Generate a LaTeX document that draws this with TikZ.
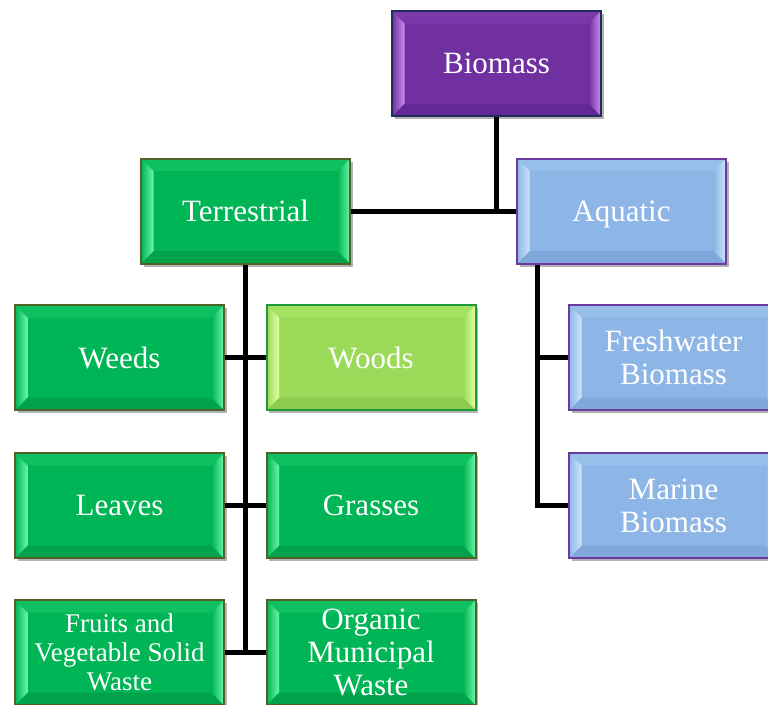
\documentclass[tikz,border=0pt]{standalone}
\usepackage{fontspec}
\setmainfont{Liberation Serif}
\newfontfamily\boxface{Liberation Serif}
\usetikzlibrary{shadows,backgrounds}

% colour sets: fill, light bevel, top bevel, bottom bevel, border
\definecolor{pFill}{HTML}{7030A0}
\definecolor{pLight}{HTML}{C88CEE}
\definecolor{pTop}{HTML}{7A38AA}
\definecolor{pBot}{HTML}{642894}
\definecolor{pLine}{HTML}{1F2D5A}

\definecolor{gFill}{HTML}{00B555}
\definecolor{gLight}{HTML}{6AF5A8}
\definecolor{gTop}{HTML}{0EC060}
\definecolor{gBot}{HTML}{00A24C}
\definecolor{gLine}{HTML}{4F6228}

\definecolor{lFill}{HTML}{9ADA58}
\definecolor{lLight}{HTML}{E2FFA8}
\definecolor{lTop}{HTML}{A4E262}
\definecolor{lBot}{HTML}{8CCB4C}
\definecolor{lLine}{HTML}{1E9A3C}

\definecolor{bFill}{HTML}{8DB6E6}
\definecolor{bLight}{HTML}{CFE3F8}
\definecolor{bTop}{HTML}{98BFEA}
\definecolor{bBot}{HTML}{80A8DA}
\definecolor{bLine}{HTML}{6A3A9C}

\newlength\bevw
\setlength\bevw{12.5pt}

\tikzset{
  x=1pt, y=-1pt,
  bevel/.style n args={5}{
    draw=#5, fill=#1, line width=2pt,
    minimum width=209pt, minimum height=105pt, inner sep=0pt,
    align=center, text=white,
    font=\boxface\fontsize{31}{33}\selectfont,
    drop shadow={shadow xshift=2.5pt, shadow yshift=-3pt, opacity=0.3, fill=black},
    path picture={
      % top face
      \fill[#3] (path picture bounding box.north west)
        -- (path picture bounding box.north east)
        -- ([xshift=-\bevw,yshift=-\bevw]path picture bounding box.north east)
        -- ([xshift=\bevw,yshift=-\bevw]path picture bounding box.north west) -- cycle;
      % bottom face
      \fill[#4] (path picture bounding box.south west)
        -- (path picture bounding box.south east)
        -- ([xshift=-\bevw,yshift=\bevw]path picture bounding box.south east)
        -- ([xshift=\bevw,yshift=\bevw]path picture bounding box.south west) -- cycle;
      % left face, brightest along its inner edge
      \fill[left color=#1, right color=#2] (path picture bounding box.north west)
        -- ([xshift=\bevw,yshift=-\bevw]path picture bounding box.north west)
        -- ([xshift=\bevw,yshift=\bevw]path picture bounding box.south west)
        -- (path picture bounding box.south west) -- cycle;
      % right face, brightest along the outer edge
      \fill[left color=#1, right color=#2] (path picture bounding box.north east)
        -- ([xshift=-\bevw,yshift=-\bevw]path picture bounding box.north east)
        -- ([xshift=-\bevw,yshift=\bevw]path picture bounding box.south east)
        -- (path picture bounding box.south east) -- cycle;
    }
  },
  purplebox/.style={bevel={pFill}{pLight}{pTop}{pBot}{pLine}},
  greenbox/.style={bevel={gFill}{gLight}{gTop}{gBot}{gLine}},
  limebox/.style={bevel={lFill}{lLight}{lTop}{lBot}{lLine}},
  bluebox/.style={bevel={bFill}{bLight}{bTop}{bBot}{bLine}},
  link/.style={draw=black, line width=5pt},
}

\begin{document}
\begin{tikzpicture}
\useasboundingbox (0,0) rectangle (768,704);
\clip (0,0) rectangle (768,704);

% top level
\node[purplebox] (bio) at (496.5,63.5) {Biomass};

% second level
\node[greenbox] (ter) at (245.5,211) {Terrestrial};
\node[bluebox, text depth=0pt]  (aqu) at (621.5,211) {Aquatic};

% terrestrial sources
\node[greenbox] (weeds)  at (119.5,357.5) {Weeds};
\node[limebox]  (woods)  at (371,357.5)   {Woods};
\node[greenbox] (leaves) at (119.5,505.5) {Leaves};
\node[greenbox] (grass)  at (371,505.5)   {Grasses};
\node[greenbox, font=\boxface\fontsize{27}{29}\selectfont] (fruit) at (119.5,652.5)
  {Fruits and\\Vegetable Solid\\Waste};
\node[greenbox] (organic) at (371,652.5) {Organic\\Municipal\\Waste};

% aquatic sources
\node[bluebox] (fresh)  at (673.5,357.5) {Freshwater\\Biomass};
\node[bluebox] (marine) at (673.5,505.5) {Marine\\Biomass};

\coordinate (aqtap) at ([xshift=21pt]aqu.south west);

\begin{pgfonlayer}{background}
  \path[link] (ter.east) -- (aqu.west);
  \path[link] (bio.south) -- (bio.south |- ter.east);
  \path[link] (ter.south) -- (ter.south |- fruit.east);
  \path[link] (weeds.east) -- (woods.west);
  \path[link] (leaves.east) -- (grass.west);
  \path[link] (fruit.east) -- (organic.west);
  \path[link] (aqtap) -- (aqtap |- marine.west) -- (marine.west);
  \path[link] (aqtap |- fresh.west) -- (fresh.west);
\end{pgfonlayer}
\end{tikzpicture}
\end{document}
